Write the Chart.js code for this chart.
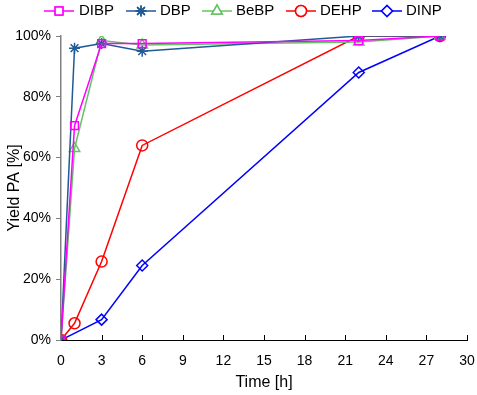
<!DOCTYPE html>
<html>
<head>
<meta charset="utf-8">
<script src="https://cdn.jsdelivr.net/npm/chart.js@4.4.1/dist/chart.umd.min.js"></script>
<style>
  html, body { margin: 0; padding: 0; background: #fff; }
  #wrap { width: 477px; height: 395px; }
</style>
</head>
<body>
<div id="wrap"><canvas id="chart"></canvas></div>
<script>
const timeH = [0, 1, 3, 6, 22, 28];
const dibp = [0, 70.5, 97.5, 97.5, 98.5, 100];
const dbp = [0, 96, 97.5, 95, 100, 100];
const bebp = [0, 63, 98.5, 97, 98, 100];
const dehp = [0, 5.5, 25.8, 64, 100, 100];
const dinpTime = [0, 3, 6, 22, 28];
const dinp = [0, 6.7, 24.5, 88, 100];
const xTicks = [0, 3, 6, 9, 12, 15, 18, 21, 24, 27, 30];
const yTicks = [0, 20, 40, 60, 80, 100];

const FONT = "'Liberation Sans', Arial, sans-serif";

// where each legend entry sits (symbol centre, text start)
const legendSymbolX = [59, 141, 217, 301, 387];
const legendTextX = [79, 160, 236, 320, 406];
const legendY = 11;

function toPoints(xs, ys) {
    return xs.map((x, i) => ({ x: x, y: ys[i] }));
}

function series(label, xs, ys, color, style, radius) {
    return {
        label: label,
        data: toPoints(xs, ys),
        borderColor: color,
        backgroundColor: "rgba(255,255,255,0)",
        borderWidth: 1.5,
        pointStyle: style,
        pointRadius: radius,
        pointBorderWidth: 1.5,
        pointBackgroundColor: "rgba(255,255,255,0)",
        tension: 0
    };
}

const datasets = [
    series("DIBP", timeH, dibp, "#ff00ff", "rect", 5.5),
    series("DBP", timeH, dbp, "#1f5b95", "star", 5.5),
    series("BeBP", timeH, bebp, "#66c266", "triangle", 6),
    series("DEHP", timeH, dehp, "#ff0000", "circle", 5.5),
    series("DINP", dinpTime, dinp, "#0000ff", "rectRot", 5.5)
];

// legend drawn as line + marker + label, like the spreadsheet original
const lineLegend = {
    id: "lineLegend",
    afterDraw(chart) {
        const ctx = chart.ctx;
        ctx.save();
        chart.data.datasets.forEach((ds, i) => {
            const cx = legendSymbolX[i];
            ctx.strokeStyle = ds.borderColor;
            ctx.lineWidth = 1.5;
            ctx.beginPath();
            ctx.moveTo(cx - 15, legendY);
            ctx.lineTo(cx + 15, legendY);
            ctx.stroke();
            Chart.helpers.drawPoint(ctx, {
                pointStyle: ds.pointStyle,
                radius: ds.pointRadius,
                rotation: 0,
                borderWidth: 1.5
            }, cx, legendY);
            ctx.fillStyle = "#fff";
            ctx.fill();
            ctx.stroke();
            ctx.fillStyle = "#000";
            ctx.font = "15px " + FONT;
            ctx.textBaseline = "middle";
            ctx.textAlign = "left";
            ctx.fillText(ds.label, legendTextX[i], legendY);
        });
        ctx.restore();
    }
};

// x ticks point inward (up) from the axis
const innerTicks = {
    id: "innerTicks",
    afterDraw(chart) {
        const ctx = chart.ctx;
        const x = chart.scales.x;
        const bottom = chart.chartArea.bottom;
        ctx.save();
        ctx.strokeStyle = "#000";
        ctx.lineWidth = 1;
        xTicks.forEach(v => {
            if (v === 0) return;
            const px = Math.round(x.getPixelForValue(v)) + 0.5;
            ctx.beginPath();
            ctx.moveTo(px, bottom);
            ctx.lineTo(px, bottom - 5);
            ctx.stroke();
        });
        ctx.restore();
    }
};

new Chart(document.getElementById("chart"), {
    type: "line",
    data: { datasets: datasets },
    plugins: [innerTicks, lineLegend],
    options: {
        responsive: true,
        maintainAspectRatio: false,
        animation: false,
        layout: { padding: { left: 2, right: 0, top: 36, bottom: 0 } },
        plugins: {
            tooltip: { enabled: false },
            legend: { display: false }
        },
        scales: {
            x: {
                type: "linear",
                min: 0,
                max: 30,
                afterBuildTicks(scale) {
                    scale.ticks = xTicks.map(v => ({ value: v }));
                },
                afterFit(scale) {
                    scale.height = 55;
                    scale.paddingRight = 10;
                },
                grid: { display: false, drawTicks: false },
                border: { display: true, color: "#000", width: 1 },
                ticks: {
                    color: "#000",
                    padding: 13,
                    maxRotation: 0,
                    autoSkip: false,
                    font: { family: FONT, size: 14 }
                },
                title: {
                    display: true,
                    text: "Time [h]",
                    color: "#000",
                    font: { family: FONT, size: 16 },
                    padding: { top: 4, bottom: 3 }
                }
            },
            y: {
                type: "linear",
                min: 0,
                max: 100,
                afterBuildTicks(scale) {
                    scale.ticks = yTicks.map(v => ({ value: v }));
                },
                afterFit(scale) { scale.width = 59; },
                grid: {
                    display: true,
                    drawOnChartArea: false,
                    drawTicks: true,
                    tickLength: 5,
                    color: "#808080"
                },
                border: { display: true, color: "#808080", width: 1.5 },
                ticks: {
                    color: "#000",
                    padding: 5,
                    autoSkip: false,
                    font: { family: FONT, size: 14 },
                    callback: v => v + "%"
                },
                title: {
                    display: true,
                    text: "Yield PA [%]",
                    color: "#000",
                    font: { family: FONT, size: 16 },
                    padding: { top: 3, bottom: 4 }
                }
            }
        }
    }
});
</script>
</body>
</html>
